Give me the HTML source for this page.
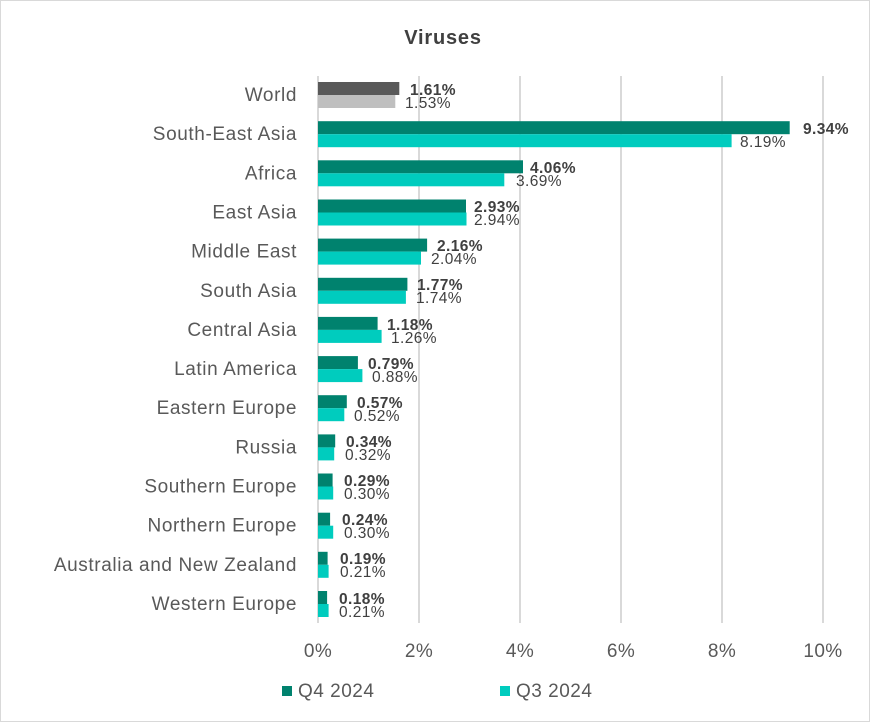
<!DOCTYPE html>
<html><head><meta charset="utf-8"><style>
html,body{margin:0;padding:0;background:#fff}
svg{display:block}
text{font-family:"Liberation Sans",sans-serif}
.c{font-size:19px;fill:#595959;text-anchor:end;letter-spacing:0.6px}
.v4{font-size:15.5px;fill:#404040;font-weight:bold;letter-spacing:0.4px}
.v3{font-size:15.5px;fill:#404040;letter-spacing:0.4px}
.t{font-size:19px;fill:#595959;text-anchor:middle;letter-spacing:0.4px}
</style></head><body>
<svg width="870" height="722" viewBox="0 0 870 722">
<rect x="0.5" y="0.5" width="869" height="721" fill="#fff" stroke="#d9d9d9"/>
<text x="443" y="44" text-anchor="middle" font-size="20" font-weight="bold" fill="#404040" letter-spacing="0.8">Viruses</text>
<g stroke="#d9d9d9" stroke-width="2">
<line x1="318" y1="76" x2="318" y2="623"/><line x1="419" y1="76" x2="419" y2="623"/><line x1="520" y1="76" x2="520" y2="623"/><line x1="621" y1="76" x2="621" y2="623"/><line x1="722" y1="76" x2="722" y2="623"/><line x1="823" y1="76" x2="823" y2="623"/>
</g>
<g>
<rect x="318" y="82" width="81.3" height="13" fill="#595959"/><rect x="318" y="95" width="77.3" height="13" fill="#bfbfbf"/>
<rect x="318" y="121.2" width="471.7" height="13" fill="#00826e"/><rect x="318" y="134.2" width="413.6" height="13" fill="#00ccbe"/>
<rect x="318" y="160.3" width="205" height="13" fill="#00826e"/><rect x="318" y="173.3" width="186.3" height="13" fill="#00ccbe"/>
<rect x="318" y="199.5" width="148" height="13" fill="#00826e"/><rect x="318" y="212.5" width="148.5" height="13" fill="#00ccbe"/>
<rect x="318" y="238.6" width="109.1" height="13" fill="#00826e"/><rect x="318" y="251.6" width="103" height="13" fill="#00ccbe"/>
<rect x="318" y="277.8" width="89.4" height="13" fill="#00826e"/><rect x="318" y="290.8" width="87.9" height="13" fill="#00ccbe"/>
<rect x="318" y="316.9" width="59.6" height="13" fill="#00826e"/><rect x="318" y="329.9" width="63.6" height="13" fill="#00ccbe"/>
<rect x="318" y="356.1" width="39.9" height="13" fill="#00826e"/><rect x="318" y="369.1" width="44.4" height="13" fill="#00ccbe"/>
<rect x="318" y="395.2" width="28.8" height="13" fill="#00826e"/><rect x="318" y="408.2" width="26.3" height="13" fill="#00ccbe"/>
<rect x="318" y="434.4" width="17.2" height="13" fill="#00826e"/><rect x="318" y="447.4" width="16.2" height="13" fill="#00ccbe"/>
<rect x="318" y="473.5" width="14.6" height="13" fill="#00826e"/><rect x="318" y="486.5" width="15.2" height="13" fill="#00ccbe"/>
<rect x="318" y="512.7" width="12.1" height="13" fill="#00826e"/><rect x="318" y="525.7" width="15.2" height="13" fill="#00ccbe"/>
<rect x="318" y="551.8" width="9.6" height="13" fill="#00826e"/><rect x="318" y="564.8" width="10.6" height="13" fill="#00ccbe"/>
<rect x="318" y="591" width="9.1" height="13" fill="#00826e"/><rect x="318" y="604" width="10.6" height="13" fill="#00ccbe"/>
</g>
<g>
<text class="c" x="297" y="101">World</text>
<text class="c" x="297" y="140.2">South-East Asia</text>
<text class="c" x="297" y="179.3">Africa</text>
<text class="c" x="297" y="218.5">East Asia</text>
<text class="c" x="297" y="257.6">Middle East</text>
<text class="c" x="297" y="296.8">South Asia</text>
<text class="c" x="297" y="335.9">Central Asia</text>
<text class="c" x="297" y="375.1">Latin America</text>
<text class="c" x="297" y="414.2">Eastern Europe</text>
<text class="c" x="297" y="453.4">Russia</text>
<text class="c" x="297" y="492.5">Southern Europe</text>
<text class="c" x="297" y="531.7">Northern Europe</text>
<text class="c" x="297" y="570.8">Australia and New Zealand</text>
<text class="c" x="297" y="610">Western Europe</text>
</g>
<g>
<text class="v4" x="410" y="95">1.61%</text><text class="v3" x="405" y="108">1.53%</text>
<text class="v4" x="803" y="134">9.34%</text><text class="v3" x="740" y="147">8.19%</text>
<text class="v4" x="530" y="173">4.06%</text><text class="v3" x="516" y="186">3.69%</text>
<text class="v4" x="474" y="212">2.93%</text><text class="v3" x="474" y="225">2.94%</text>
<text class="v4" x="437" y="251">2.16%</text><text class="v3" x="431" y="264">2.04%</text>
<text class="v4" x="417" y="290">1.77%</text><text class="v3" x="416" y="303">1.74%</text>
<text class="v4" x="387" y="330">1.18%</text><text class="v3" x="391" y="343">1.26%</text>
<text class="v4" x="368" y="369">0.79%</text><text class="v3" x="372" y="382">0.88%</text>
<text class="v4" x="357" y="408">0.57%</text><text class="v3" x="354" y="421">0.52%</text>
<text class="v4" x="346" y="447">0.34%</text><text class="v3" x="345" y="460">0.32%</text>
<text class="v4" x="344" y="486">0.29%</text><text class="v3" x="344" y="499">0.30%</text>
<text class="v4" x="342" y="525">0.24%</text><text class="v3" x="344" y="538">0.30%</text>
<text class="v4" x="340" y="564">0.19%</text><text class="v3" x="340" y="577">0.21%</text>
<text class="v4" x="339" y="604">0.18%</text><text class="v3" x="339" y="617">0.21%</text>
</g>
<g>
<text class="t" x="318" y="657">0%</text><text class="t" x="419" y="657">2%</text><text class="t" x="520" y="657">4%</text><text class="t" x="621" y="657">6%</text><text class="t" x="722" y="657">8%</text><text class="t" x="823" y="657">10%</text>
</g>
<rect x="282" y="686" width="10" height="10" fill="#00826e"/>
<text x="298" y="697" font-size="19" fill="#595959" letter-spacing="0.5">Q4 2024</text>
<rect x="500" y="686" width="10" height="10" fill="#00ccbe"/>
<text x="516" y="697" font-size="19" fill="#595959" letter-spacing="0.5">Q3 2024</text>
</svg>
</body></html>
